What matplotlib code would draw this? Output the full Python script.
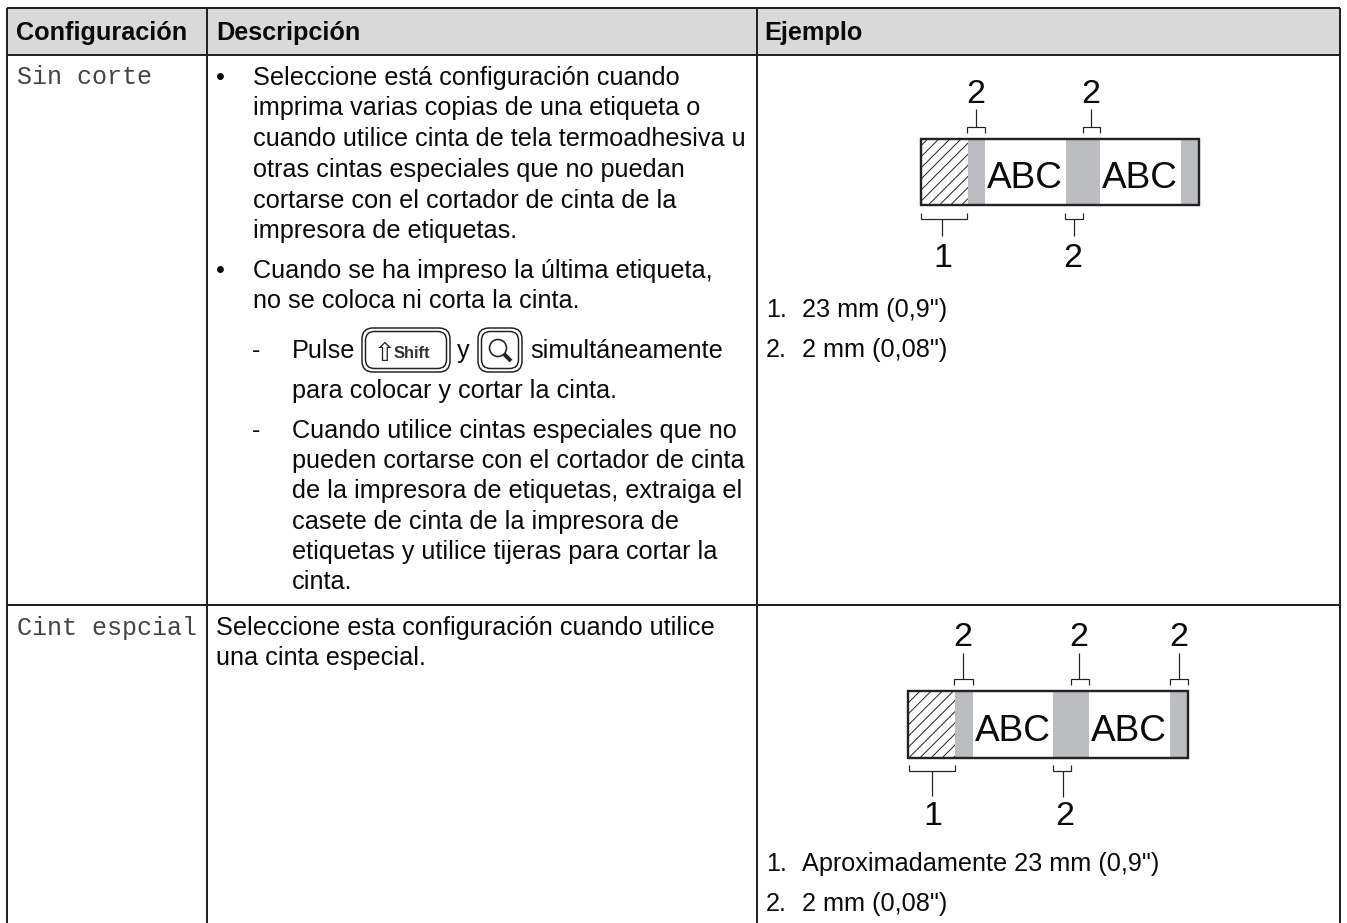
import matplotlib
matplotlib.use("Agg")
import matplotlib.pyplot as plt
from matplotlib.patches import Rectangle, FancyBboxPatch, Circle

W, H = 1347, 923
headers = ["Configuración", "Descripción", "Ejemplo"]
settings = ["Sin corte", "Cint espcial"]
bullet_1 = ["Seleccione está configuración cuando", "imprima varias copias de una etiqueta o",
            "cuando utilice cinta de tela termoadhesiva u", "otras cintas especiales que no puedan",
            "cortarse con el cortador de cinta de la", "impresora de etiquetas."]
bullet_2 = ["Cuando se ha impreso la última etiqueta,", "no se coloca ni corta la cinta."]
sub_1_end = "para colocar y cortar la cinta."
sub_2 = ["Cuando utilice cintas especiales que no", "pueden cortarse con el cortador de cinta",
         "de la impresora de etiquetas, extraiga el", "casete de cinta de la impresora de",
         "etiquetas y utilice tijeras para cortar la", "cinta."]
desc_2 = ["Seleccione esta configuración cuando utilice", "una cinta especial."]
notes_1 = ['23 mm (0,9")', '2 mm (0,08")']
notes_2 = ['Aproximadamente 23 mm (0,9")', '2 mm (0,08")']

plt.rcParams["hatch.linewidth"] = 0.7
fig = plt.figure(figsize=(W / 100, H / 100), dpi=100)
ax = fig.add_axes([0, 0, 1, 1])
ax.set_xlim(0, W)
ax.set_ylim(H, 0)
ax.axis("off")
px = 72 / 100
SANS = "Liberation Sans"
FS = 25.3 * px
INK = "#0a0a0a"


def text(x, y, s, size=FS, **kw):
    kw.setdefault("family", SANS)
    kw.setdefault("color", INK)
    ax.text(x, y, s, fontsize=size, va="baseline", ha=kw.pop("ha", "left"), **kw)


def line(xs, ys, lw=1.3, color="#222222", cap="butt"):
    ax.plot(xs, ys, color=color, lw=lw * px, solid_capstyle=cap, solid_joinstyle="miter")


# table
ax.add_patch(Rectangle((7, 8), 1333, 47, fc="#d9d9d9", ec="none"))
for xv in (7, 207, 757, 1340):
    line([xv, xv], [8, H], 2)
for yv in (8, 55, 605):
    line([7, 1340], [yv, yv], 2)

for x0, s in zip((16, 216, 764), headers):
    text(x0, 40, s, weight="bold")
for y0, s in zip((84, 635), settings):
    text(17, y0, s, size=25 * px, family="Liberation Mono", color="#444444")

# description column, row 1
for yb, s in zip((85, 115.5, 146, 177, 207.5, 238), bullet_1):
    text(253, yb, s)
text(216, 85, "•")
text(216, 278, "•")
for yb, s in zip((278, 308), bullet_2):
    text(253, yb, s)

text(252, 358, "-")
text(292, 358, "Pulse")
text(457, 358, "y")
text(530, 358, "simultáneamente")
text(292, 398, sub_1_end)
text(252, 438, "-")
for yb, s in zip((438, 468, 498, 529, 559, 589), sub_2):
    text(292, yb, s)


def key(x0, x1, y0, y1):
    ax.add_patch(FancyBboxPatch((x0, y0), x1 - x0, y1 - y0, boxstyle="round,pad=0,rounding_size=11",
                                fc="white", ec="#222222", lw=1.5 * px))
    ax.add_patch(FancyBboxPatch((x0 + 3.5, y0 + 3.5), x1 - x0 - 7, y1 - y0 - 7,
                                boxstyle="round,pad=0,rounding_size=9",
                                fc="white", ec="#222222", lw=1.5 * px))


key(362, 450, 328, 372)
text(374, 361, "⇧", size=26 * px, family="DejaVu Sans", color="#222222")
text(394, 358, "Shift", size=16.5 * px, weight="bold", color="#333333")
key(478, 522, 328, 372)
ax.add_patch(Circle((498, 348), 8.5, fc="white", ec="#222222", lw=1.6 * px))
line([504, 511], [354, 361], 4, "#222222")

# description column, row 2
for yb, s in zip((635, 665), desc_2):
    text(216, yb, s)

# examples notes
for (y1, y2, notes) in ((317, 357, notes_1), (871, 911, notes_2)):
    for yy, n, s in zip((y1, y2), ("1.", "2."), notes):
        text(766, yy, n)
        text(802, yy, s)


def bracket(x0, x1, ybar, ytick, xstem, ystem):
    line([x0, x0, x1, x1], [ytick, ybar, ybar, ytick], 1.2)
    line([xstem, xstem], [ybar, ystem], 1.2)


def diagram(left, right, top, bottom, hatch_end, grays, abc, abc_y, tops, bots):
    for g0, g1 in grays:
        ax.add_patch(Rectangle((g0, top), g1 - g0, bottom - top, fc="#bcbdc0", ec="none"))
    ax.add_patch(Rectangle((left, top), hatch_end - left, bottom - top, fc="white",
                           ec="#222222", hatch="///", lw=0))
    ax.add_patch(Rectangle((left, top), right - left, bottom - top, fc="none", ec="#222222", lw=2.4 * px))
    for xc in abc:
        text(xc, abc_y, "ABC", size=37 * px, ha="center")
    for x0, x1, xs, xt, yb, yt, ys, yl in tops:
        bracket(x0, x1, yb, yt, xs, ys)
        text(xt, yl, "2", size=34 * px, ha="center")
    for x0, x1, xs, xt, yb, yt, ys, yl, lab in bots:
        bracket(x0, x1, yb, yt, xs, ys)
        text(xt, yl, lab, size=34 * px, ha="center")


diagram(921, 1199, 139, 205, 968, [(968, 985), (1066, 1100), (1181, 1199)], (1025, 1140), 188,
        [(967, 985, 976, 976, 127, 133, 109, 103), (1082.5, 1100, 1091, 1091, 127, 133, 109, 103)],
        [(921, 967, 942, 943, 219, 213, 236, 267, "1"), (1065, 1083, 1074, 1073, 219, 213, 236, 267, "2")])
diagram(908, 1188, 691, 758, 955, [(955, 973), (1053, 1089), (1170, 1188)], (1013, 1129), 741,
        [(954, 973, 963, 963, 679, 685, 653, 646), (1071, 1089, 1079, 1079, 679, 685, 653, 646),
         (1170, 1188, 1179, 1179, 679, 685, 653, 646)],
        [(909, 955, 932, 933, 771, 765, 796, 825, "1"), (1053, 1071, 1063, 1065, 771, 765, 797, 825, "2")])

fig.savefig("out.png", dpi=100)
